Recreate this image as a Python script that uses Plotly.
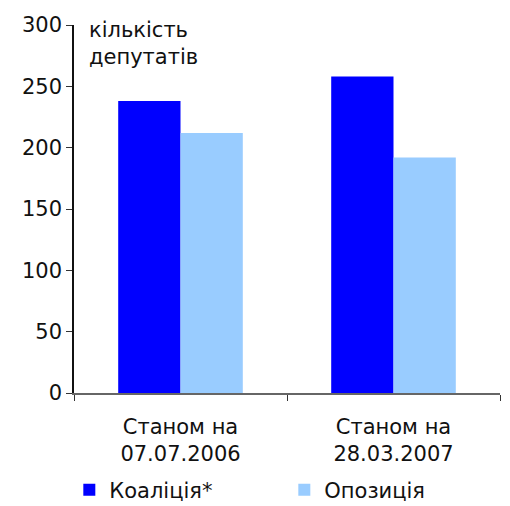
import plotly.graph_objects as go

categories = ["Станом на<br>07.07.2006", "Станом на<br>28.03.2007"]
coalition = [238, 258]
opposition = [212, 192]
y_ticks = [0, 50, 100, 150, 200, 250, 300]

FONT = "DejaVu Sans, Verdana, sans-serif"
FS = 21

fig = go.Figure()
fig.add_trace(go.Bar(name="Коаліція*", x=categories, y=coalition,
                     marker=dict(color="#0000FF", line=dict(width=0))))
fig.add_trace(go.Bar(name="Опозиція", x=categories, y=opposition,
                     marker=dict(color="#99CCFF", line=dict(width=0))))

# page body has an 8px default margin, so the figure is a bit smaller
fig.update_layout(
    width=502, height=498,
    margin=dict(l=66, r=10, t=17, b=113, autoexpand=False),
    paper_bgcolor="white", plot_bgcolor="white",
    font=dict(family=FONT, size=FS, color="#111111"),
    barmode="group", bargap=0.415, bargroupgap=0,
    showlegend=True,
    legend=dict(orientation="h", x=-0.011, xanchor="left", y=-0.264, yanchor="middle",
                entrywidth=170, entrywidthmode="pixels",
                font=dict(family=FONT, size=FS), itemsizing="constant",
                tracegroupgap=0),
    annotations=[dict(text="кількість<br>депутатів", x=(87 - 74) / 426, xref="paper",
                      y=1.024, yref="paper",
                      showarrow=False, align="left", xanchor="left", yanchor="top",
                      font=dict(family=FONT, size=FS))],
)

fig.update_xaxes(
    type="category", range=[-0.5, 1.5], automargin=False,
    showline=True, linecolor="#666666", linewidth=1.5,
    ticks="outside", tickson="boundaries", ticklen=6, tickcolor="#333333",
    ticklabelstandoff=14,
    showgrid=False, zeroline=False,
    tickfont=dict(family=FONT, size=FS),
)
fig.update_yaxes(
    range=[0, 300], tickvals=y_ticks, automargin=False,
    showline=True, linecolor="#111111", linewidth=1.5,
    ticks="outside", ticklen=6, tickcolor="#333333",
    showgrid=False, zeroline=False,
    tickfont=dict(family=FONT, size=FS),
)

fig.write_html("out.html")
